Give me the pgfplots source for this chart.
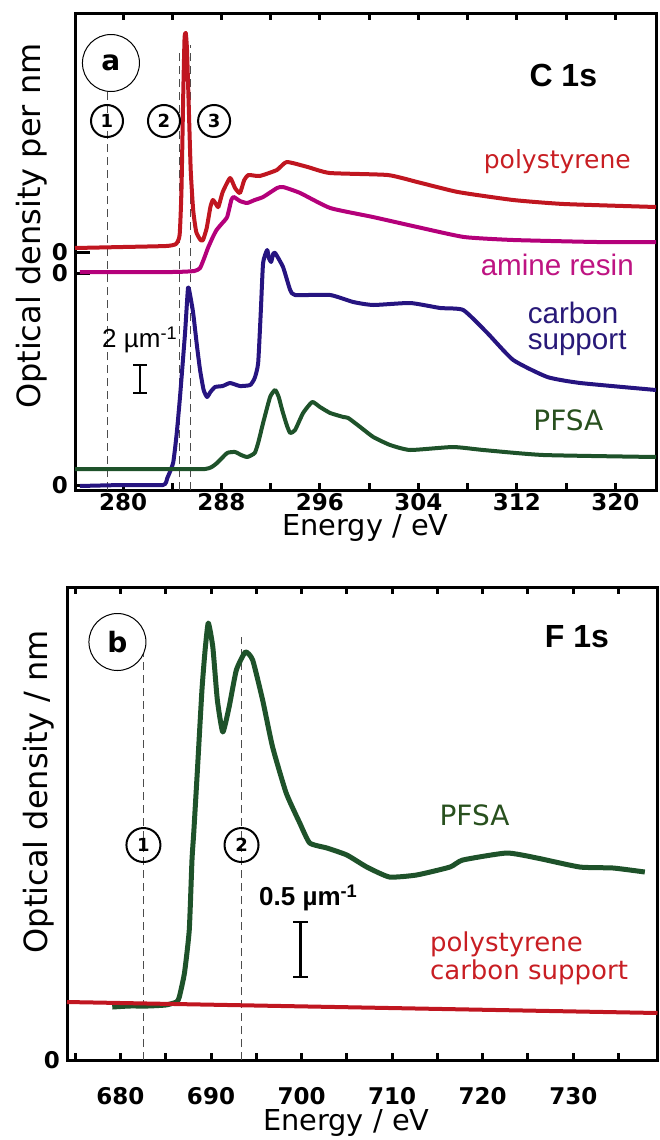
\documentclass[border=0pt]{standalone}
\usepackage{pgfplots}
\pgfplotsset{compat=1.18}
\usepackage{fontspec}
\setmainfont{DejaVu Sans}
\newfontfamily\arial{Liberation Sans}
\definecolor{psred}{RGB}{192,22,32}
\definecolor{aminec}{RGB}{180,0,122}
\definecolor{navyc}{RGB}{38,20,128}
\definecolor{pfsac}{RGB}{30,82,42}
\definecolor{pstext}{RGB}{200,30,35}
\definecolor{aminetext}{RGB}{190,20,130}
\definecolor{cstext}{RGB}{40,25,120}
\definecolor{pfsatext}{RGB}{40,80,30}
\newcommand{\fs}[1]{\fontsize{#1}{#1}\selectfont}
\pgfplotsset{
  common/.style={
    scale only axis,
    axis line style={line width=1.5pt},
    every tick/.style={line width=1.5pt,black},
    major tick length=3.5pt,
    ytick pos=left,
    /pgf/number format/assume math mode=true,
    tick label style={font=\fs{11.5}\bfseries},
    label style={font=\fs{14.4}},
    clip=false,
  }
}
\begin{document}
\begin{tikzpicture}
\path[use as bounding box] (0,0) rectangle (329.5pt,-570pt);
% ---------------- panel a ----------------
\begin{axis}[common,
  at={(37.5pt,-245pt)}, anchor=south west,
  width=290.5pt, height=238.5pt,
  xmin=276.1, xmax=323.3, ymin=0, ymax=477,
  xtick={280,284,...,320},
  xticklabels={280,,288,,296,,304,,312,,320},
  x tick label style={yshift=2pt},
  ytick=\empty,
  extra y ticks={5,217,238},
  extra y tick labels={0,0,0},
  extra y tick style={major tick length=7.5pt},
  xlabel={Energy / eV},
  xlabel style={at={(axis description cs:0.5,0)},anchor=center,yshift=-19pt},
  ylabel={Optical density per nm},
  ylabel style={at={(axis description cs:-0.074,0.553)},anchor=center,font=\fs{16}},
]
\draw[gray!60!black,line width=0.5pt,dash pattern=on 4pt off 2.5pt] (axis cs:278.7,0) -- (axis cs:278.7,400);
\draw[gray!60!black,line width=0.5pt,dash pattern=on 4pt off 2.5pt] (axis cs:284.63,0) -- (axis cs:284.63,440);
\draw[gray!60!black,line width=0.5pt,dash pattern=on 4pt off 2.5pt] (axis cs:285.5,0) -- (axis cs:285.5,445);
% polystyrene
\addplot[psred,line width=2pt,line join=round,smooth,tension=0.3] coordinates {
(276.1,242)(280,243)(283.5,244)(284.3,246)(284.6,255)(284.75,300)(284.9,400)(285.0,452)(285.1,457)(285.2,440)(285.35,380)(285.5,320)(285.7,280)(285.95,258)(286.3,250)(286.5,250)(286.8,262)(287.1,283)(287.3,290)(287.55,286)(287.75,283)(288.1,298)(288.7,312)(289.1,302)(289.5,297)(289.85,310)(290.2,315)(291.1,314)(292.5,320)(293.3,328)(295.0,323)(296.8,317)(301.5,315)(303.9,308)(307.2,298)(311.7,290)(315.8,286)(323.3,283)};
% amine resin
\addplot[aminec,line width=2pt,line join=round,smooth,tension=0.3] coordinates {
(276.5,218)(284,218)(285.8,219)(286.26,222)(286.6,232)(286.9,242)(287.3,253)(287.6,260)(288.0,266)(288.46,273)(288.8,290)(289.0,293)(289.5,289)(290.08,287)(290.7,290)(291.38,293)(292.52,302)(293.0,303)(294.39,297)(296.83,282)(300.3,273)(303.9,263)(307.7,253)(311.7,250)(318.5,248)(323.3,248)};
% carbon support
\addplot[navyc,line width=2pt,line join=round,smooth,tension=0.3] coordinates {
(276.5,4)(280,5)(283.25,5)(283.6,12)(284.07,27)(284.35,55)(284.63,93)(285.04,157)(285.28,202)(285.45,195)(285.7,177)(286.0,145)(286.26,120)(286.55,100)(286.83,93)(287.1,98)(287.48,103)(288.1,104)(288.7,107)(289.5,104)(290.33,105)(290.7,112)(290.98,127)(291.2,180)(291.38,227)(291.71,240)(291.85,232)(292.03,228)(292.2,236)(292.36,237)(293.0,223)(293.58,200)(293.98,195)(296.83,195)(298.7,188)(300.33,185)(303.33,187)(305.77,182)(307.64,180)(309.6,157)(311.7,130)(314.47,113)(317.15,107)(323.3,100)};
% PFSA
\addplot[pfsac,line width=2pt,line join=round,smooth,tension=0.3] coordinates {
(276.1,21)(284,21)(286.67,21)(287.2,23)(287.64,27)(288.46,37)(289.1,38)(289.6,35)(290.1,33)(290.7,37)(291.0,48)(291.38,67)(291.95,93)(292.36,100)(292.65,93)(292.93,80)(293.3,65)(293.58,57)(293.98,60)(294.63,77)(295.37,88)(296.0,83)(296.83,77)(297.9,73)(298.3,72)(299.27,63)(300.33,53)(301.7,45)(303.33,40)(306.8,43)(309.27,40)(314.15,35)(323.3,33)};
% annotations
\node[circle,draw,line width=0.5pt,minimum size=28.5pt,inner sep=0pt,fill=white,font=\fs{14}\bfseries] at (axis cs:279.02,427) {a};
\node[circle,draw,line width=1pt,minimum size=16pt,inner sep=0pt,font=\fs{9}\bfseries] at (axis cs:278.7,369) {1};
\node[circle,draw,line width=1pt,minimum size=16pt,inner sep=0pt,font=\fs{9}\bfseries] at (axis cs:283.33,369) {2};
\node[circle,draw,line width=1pt,minimum size=16pt,inner sep=0pt,font=\fs{9}\bfseries] at (axis cs:287.4,369) {3};
\node[font=\arial\fs{16}\bfseries] at (axis cs:315.77,415) {C 1s};
\node[font=\fs{12.5},text=pstext] at (axis cs:315.28,328) {polystyrene};
\node[font=\arial\fs{14.8},text=aminetext] at (axis cs:315.28,225) {amine resin};
\node[font=\arial\fs{14.8},text=cstext,align=left,anchor=west,inner sep=0pt] at (axis cs:312.85,161) {carbon\\[-1.5pt]support};
\node[font=\fs{14},text=pfsatext] at (axis cs:316.18,70) {PFSA};
\node[font=\arial\fs{13}] at (axis cs:281.38,150) {2 µm\textsuperscript{-1}};
\draw[line width=1.2pt] (axis cs:281.38,97) -- (axis cs:281.38,125);
\draw[line width=1.2pt] ([xshift=-3.3pt]axis cs:281.38,97) -- ([xshift=3.3pt]axis cs:281.38,97);
\draw[line width=1.2pt] ([xshift=-3.3pt]axis cs:281.38,125) -- ([xshift=3.3pt]axis cs:281.38,125);
\end{axis}
% ---------------- panel b ----------------
\begin{axis}[common,
  at={(33.5pt,-530pt)}, anchor=south west,
  width=295.25pt, height=236.5pt,
  xmin=674.1, xmax=739.3, ymin=0, ymax=473,
  xtick={675,680,...,735},
  xticklabels={,680,,690,,700,,710,,720,,730,},
  x tick label style={yshift=-10pt},
  ytick={0},
  xlabel={Energy / eV},
  xlabel style={at={(axis description cs:0.473,0)},anchor=center,yshift=-31.5pt},
  ylabel={Optical density / nm},
  ylabel style={at={(axis description cs:-0.0475,0.567)},anchor=center,font=\fs{16}},
]
\draw[gray!60!black,line width=0.5pt,dash pattern=on 4pt off 2.5pt] (axis cs:682.54,0) -- (axis cs:682.54,407);
\draw[gray!60!black,line width=0.5pt,dash pattern=on 4pt off 2.5pt] (axis cs:693.37,0) -- (axis cs:693.37,423);
% PFSA
\addplot[pfsac,line width=2.5pt,line join=round,smooth,tension=0.3] coordinates {
(679.1,53)(681,54)(683,54)(685,55)(686.2,58)(686.5,63)(687.07,87)(687.6,130)(687.9,200)(688.1,228)(688.5,290)(689.0,370)(689.35,410)(689.7,437)(690.2,413)(690.7,360)(691.3,328)(692.0,353)(692.8,390)(693.8,408)(694.6,400)(695.7,360)(696.8,313)(698.3,267)(699.8,237)(700.9,217)(702.8,212)(705.0,205)(707.2,193)(709.7,183)(712.7,185)(716.4,193)(717.8,200)(722.65,207)(726.0,202)(730.7,193)(734.4,192)(737.9,188)};
% polystyrene / carbon support
\addplot[psred,line width=2pt] coordinates {(674.1,58)(739.3,47)};
\node[circle,draw,line width=0.5pt,minimum size=28.5pt,inner sep=0pt,fill=white,font=\fs{14}\bfseries] at (axis cs:679.67,418) {b};
\node[circle,draw,line width=1pt,minimum size=17pt,inner sep=0pt,font=\fs{9}\bfseries] at (axis cs:682.54,215) {1};
\node[circle,draw,line width=1pt,minimum size=17pt,inner sep=0pt,font=\fs{9}\bfseries] at (axis cs:693.37,215) {2};
\node[font=\arial\fs{16}\bfseries] at (axis cs:730.4,423) {F 1s};
\node[font=\fs{14},text=pfsatext] at (axis cs:719.1,245) {PFSA};
\node[font=\arial\fs{13}\bfseries] at (axis cs:700.77,162) {0.5 µm\textsuperscript{-1}};
\draw[line width=1.2pt] (axis cs:699.9,83) -- (axis cs:699.9,138);
\draw[line width=1.2pt] ([xshift=-3.6pt]axis cs:699.9,83) -- ([xshift=3.6pt]axis cs:699.9,83);
\draw[line width=1.2pt] ([xshift=-3.6pt]axis cs:699.9,138) -- ([xshift=3.6pt]axis cs:699.9,138);
\node[font=\fs{13},text=pstext,align=left,anchor=west,inner sep=0pt] at (axis cs:714.14,102) {polystyrene\\[1pt]carbon support};
\end{axis}
\end{tikzpicture}
\end{document}
